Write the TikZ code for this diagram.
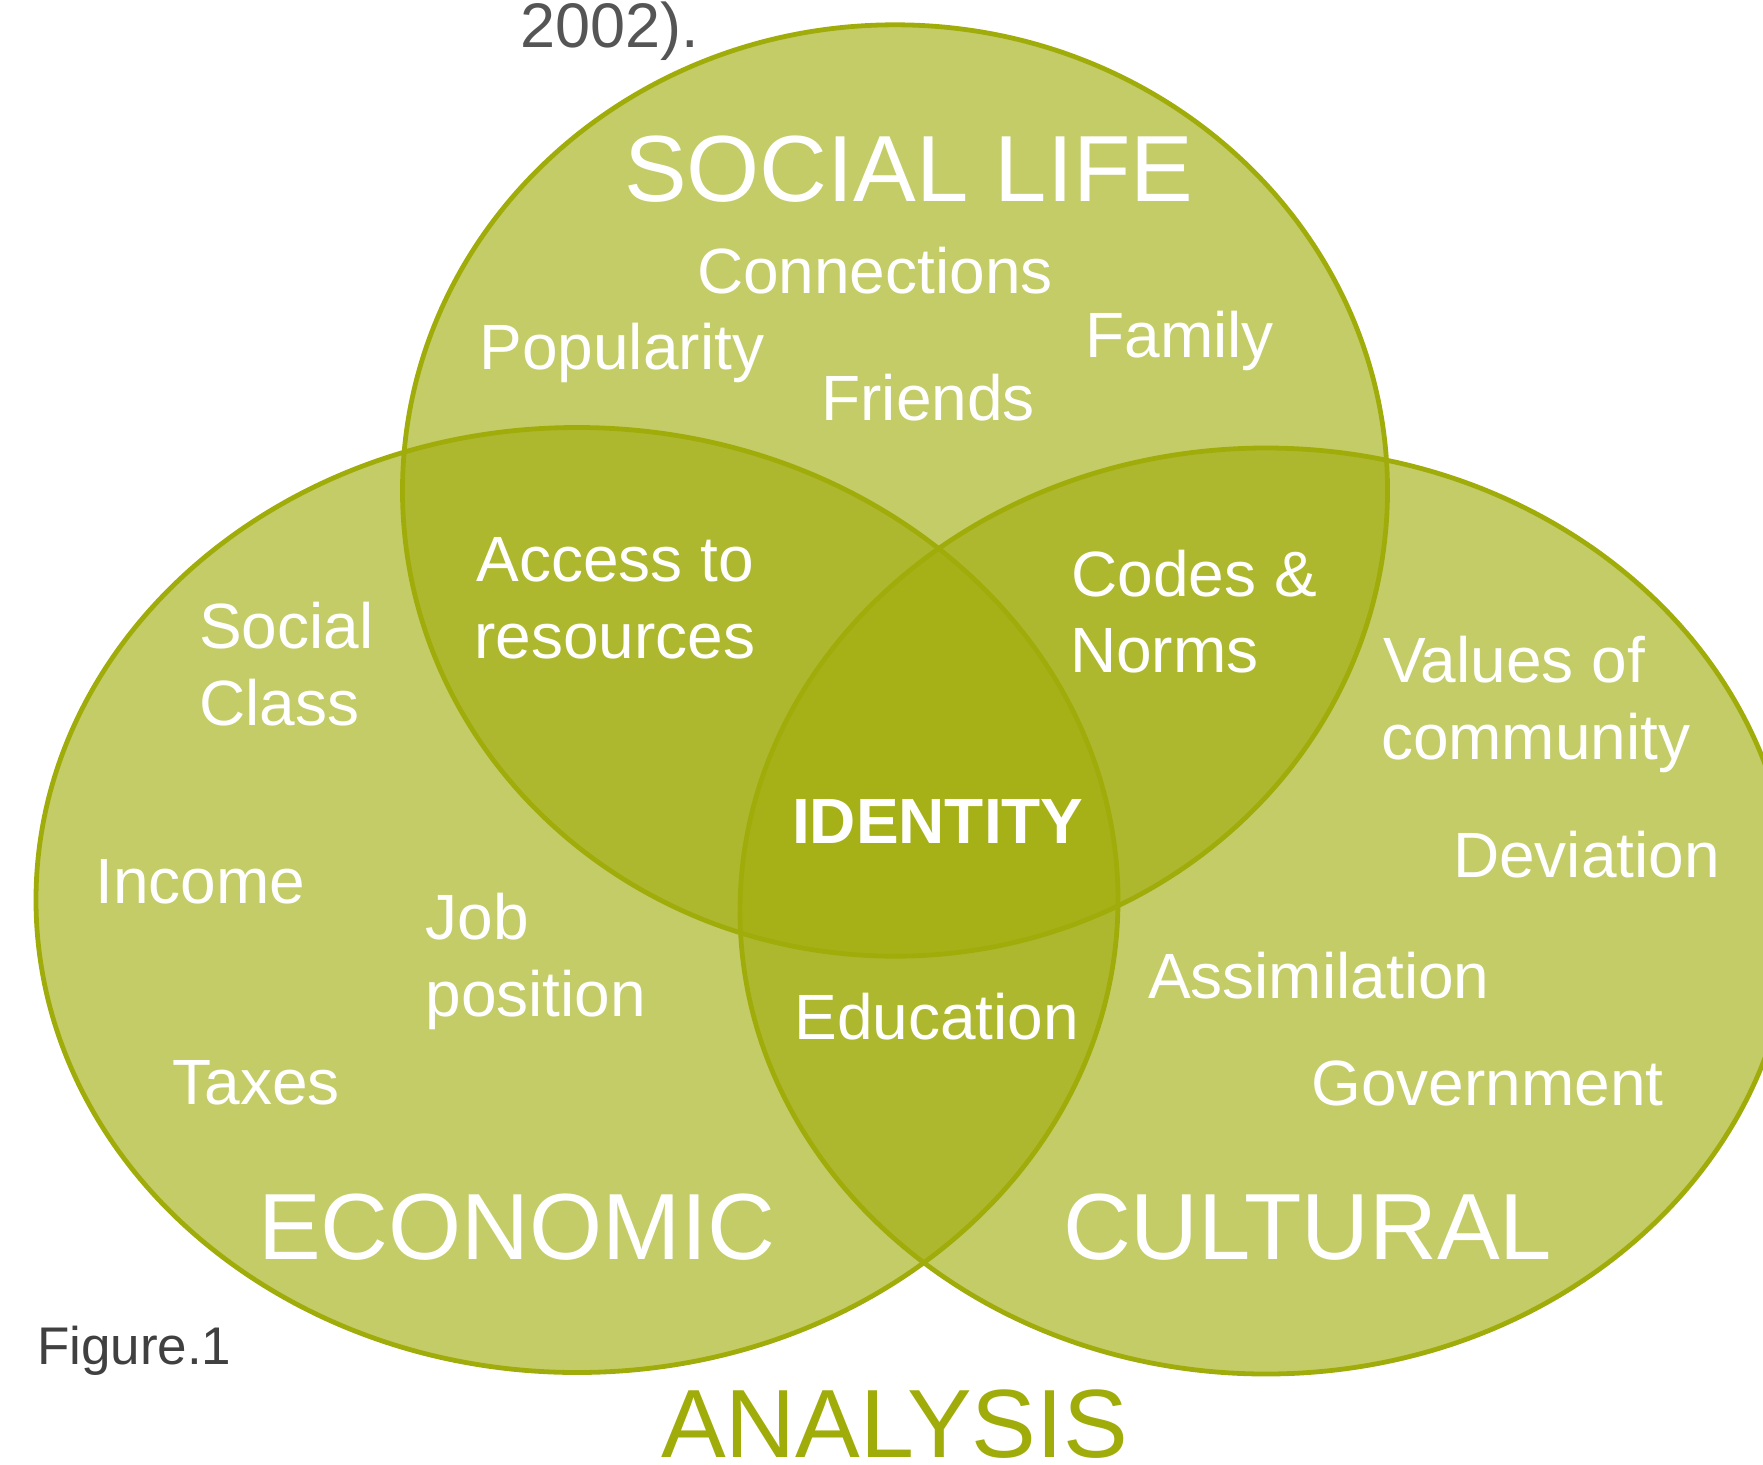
\documentclass[tikz,border=0pt]{standalone}
\usepackage{fontspec}
\setmainfont{Liberation Sans}
\definecolor{vennolive}{RGB}{160,172,10}
\definecolor{capgray}{RGB}{64,64,64}
\definecolor{refgray}{RGB}{85,85,85}
\begin{document}
\begin{tikzpicture}[x=0.5pt,y=-0.5pt,
  venn/.style={fill=vennolive, fill opacity=0.62, draw=vennolive, line width=2.4pt},
  lbl/.style={text=white, inner sep=0pt, outer sep=0pt, anchor=base west, font=\fontsize{32}{38}\selectfont},
  biglbl/.style={lbl, font=\fontsize{47}{56}\selectfont},
  boldlbl/.style={lbl, font=\fontsize{32}{38}\selectfont\bfseries},
]
\useasboundingbox (0,0) rectangle (1763,1464);

% circles
\draw[venn] (895,490.5) ellipse [x radius=246.25pt, y radius=232.85pt];
\draw[venn] (577,900) ellipse [x radius=270.5pt, y radius=236.25pt];
\draw[venn] (1266,911) ellipse [x radius=263pt, y radius=231.5pt];

% top
\node[lbl, text=refgray, font=\fontsize{31.5}{38}\selectfont] (ref) at (520,47.7) {2002).};
\node[biglbl] (social) at (624,201) {SOCIAL LIFE};
\node[lbl] (conn) at (697,293.5) {Connections};
\node[lbl] (pop) at (479.5,369) {Popularity};
\node[lbl] (fam) at (1085.5,357) {Family};
\node[lbl] (fri) at (821.5,420.5) {Friends};

% overlaps
\node[lbl] (acc1) at (476.5,581) {Access to};
\node[lbl] (acc2) at (474.5,658) {resources};
\node[lbl] (cod1) at (1071.5,596.7) {Codes \&};
\node[lbl] (cod2) at (1070,672.7) {Norms};
\node[boldlbl] (ident) at (792,843.3) {IDENTITY};
\node[lbl] (edu) at (794.5,1039) {Education};

% left
\node[lbl] (soc1) at (199,648) {Social};
\node[lbl] (soc2) at (199,725) {Class};
\node[lbl] (inc) at (95.5,903) {Income};
\node[lbl] (job1) at (425.5,939) {Job};
\node[lbl] (job2) at (425.5,1016) {position};
\node[lbl] (tax) at (172.5,1104) {Taxes};
\node[biglbl] (econ) at (258,1259) {ECONOMIC};

% right
\node[lbl] (val1) at (1383,682) {Values of};
\node[lbl] (val2) at (1381,759) {community};
\node[lbl] (dev) at (1453,877) {Deviation};
\node[lbl] (ass) at (1148,998) {Assimilation};
\node[lbl] (gov) at (1311.5,1105) {Government};
\node[biglbl] (cult) at (1063,1259) {CULTURAL};

% bottom
\node[lbl, text=capgray, font=\fontsize{26.5}{32}\selectfont] (fig) at (37,1364.5) {Figure.1};
\node[biglbl, text=vennolive, font=\fontsize{48.5}{58}\selectfont] (anal) at (661,1457) {ANALYSIS};
\end{tikzpicture}
\end{document}
